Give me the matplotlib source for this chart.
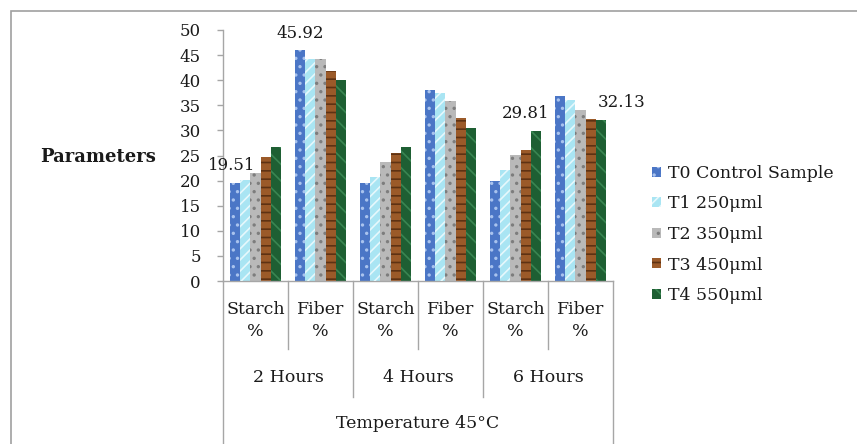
import matplotlib
matplotlib.use("Agg")
import matplotlib.pyplot as plt
from matplotlib.patches import Patch, Rectangle
from matplotlib.lines import Line2D
import numpy as np

plt.rcParams['font.family'] = ['DejaVu Serif']
plt.rcParams['hatch.linewidth'] = 1.2

# Data
categories = ["Starch\n%", "Fiber\n%", "Starch\n%", "Fiber\n%", "Starch\n%", "Fiber\n%"]
hours = ["2 Hours", "4 Hours", "6 Hours"]
outer_label = "Temperature 45\u00b0C"
series_names = ["T0 Control Sample", "T1 250\u03bcml", "T2 350\u03bcml", "T3 450\u03bcml", "T4 550\u03bcml"]
t0 = [19.51, 45.92, 19.5, 38.0, 19.9, 36.8]
t1 = [20.1, 44.2, 20.7, 37.4, 22.1, 36.0]
t2 = [21.6, 44.2, 23.8, 35.8, 25.1, 34.1]
t3 = [24.8, 41.9, 25.4, 32.5, 26.0, 32.3]
t4 = [26.6, 40.0, 26.6, 30.5, 29.81, 32.13]
series = [t0, t1, t2, t3, t4]
yticks = [0, 5, 10, 15, 20, 25, 30, 35, 40, 45, 50]

# Labelled bars: (series index, category index, x offset in px)
labelled = [(0, 0, -3), (0, 1, 0), (4, 4, -10), (4, 5, 21)]

# Bar styling (fill, hatch, hatch colour)
styles = [
    ("#4b76c6", "..", "#a9c3ee"),
    ("#a9e5f3", "///", "#e6f8fc"),
    ("#b9b9b9", "..", "#7d7d7d"),
    ("#9b5a29", "--", "#5e3213"),
    ("#1e5f33", "\\\\", "#3a8552"),
]

FS = 12.5     # category and legend text
FS_NUM = 12   # tick and value labels
TXT = "#1a1a1a"
W, H = 857, 444
fig = plt.figure(figsize=(W / 100, H / 100), dpi=100)
ax = fig.add_axes([223 / W, (H - 281) / H, (613 - 223) / W, (281 - 30) / H])

grey = "#a6a6a6"
n = len(categories)
x = np.arange(n)
bw = 0.157
for i, vals in enumerate(series):
    face, hatch, hcol = styles[i]
    pos = x + (i - 2) * bw
    ax.bar(pos, vals, width=bw, color=face, linewidth=0, zorder=2)
    ax.bar(pos, vals, width=bw, color="none", edgecolor=hcol, hatch=hatch,
           linewidth=0, zorder=3)

for si, ci, dx in labelled:
    v = series[si][ci]
    ax.annotate(f"{v:.2f}", xy=(ci + (si - 2) * bw, v), xytext=(dx * 0.72, 12.5),
                textcoords="offset points", ha="center", va="center",
                fontsize=FS_NUM, color=TXT)

ax.set_xlim(-0.5, n - 0.5)
ax.set_ylim(0, 50)
ax.set_yticks(yticks)
ax.tick_params(axis="y", direction="out", length=4, width=1, color=grey,
               labelsize=FS_NUM, labelcolor=TXT, pad=12)
ax.set_xticks([])
for s in ["top", "right"]:
    ax.spines[s].set_visible(False)
for s in ["left", "bottom"]:
    ax.spines[s].set_color(grey)
    ax.spines[s].set_linewidth(1)

# Multi-level category axis drawn below the plot area
px = 1.0 / (281 - 30) * 50  # data units per pixel (vertical)
trans = ax.transData
def vline(xv, depth):
    ax.add_line(Line2D([xv, xv], [0, -depth * px], color=grey, lw=1,
                       clip_on=False, transform=trans))

for b in [0.5, 2.5, 4.5]:
    vline(b, 68)
for b in [1.5, 3.5]:
    vline(b, 116)
for b in [-0.5, n - 0.5]:
    vline(b, 170)

for ci, lab in enumerate(categories):
    top, bottom = lab.split("\n")
    ax.text(ci, -28 * px, top, ha="center", va="center", fontsize=FS, color=TXT)
    ax.text(ci, -50 * px, bottom, ha="center", va="center", fontsize=FS, color=TXT)
for hi, lab in enumerate(hours):
    ax.text(2 * hi + 0.5, -96 * px, lab, ha="center", va="center",
            fontsize=FS, color=TXT)
ax.text((n - 1) / 2, -143 * px, outer_label, ha="center", va="center",
        fontsize=FS, color=TXT)

# Y axis title
fig.text(98 / W, 1 - 157 / H, "Parameters", ha="center", va="center",
         fontsize=13, fontweight="bold", color=TXT)

# Legend
handles = [Patch(facecolor=s[0], edgecolor=s[2], hatch=s[1], linewidth=0)
           for s in styles]
fig.legend(handles, series_names, loc="upper left",
           bbox_to_anchor=(645 / W, 1 - 158 / H), frameon=False,
           fontsize=FS, handlelength=0.5, handleheight=0.5,
           handletextpad=0.45, labelspacing=0.78, borderaxespad=0,
           labelcolor=TXT)

# Chart border
fig.add_artist(Rectangle((11 / W, -0.1), 1.2, 1 - 11 / H + 0.1,
                         transform=fig.transFigure, fill=False,
                         edgecolor="#a0a0a0", lw=1.2))

fig.savefig("out.png", dpi=100)
